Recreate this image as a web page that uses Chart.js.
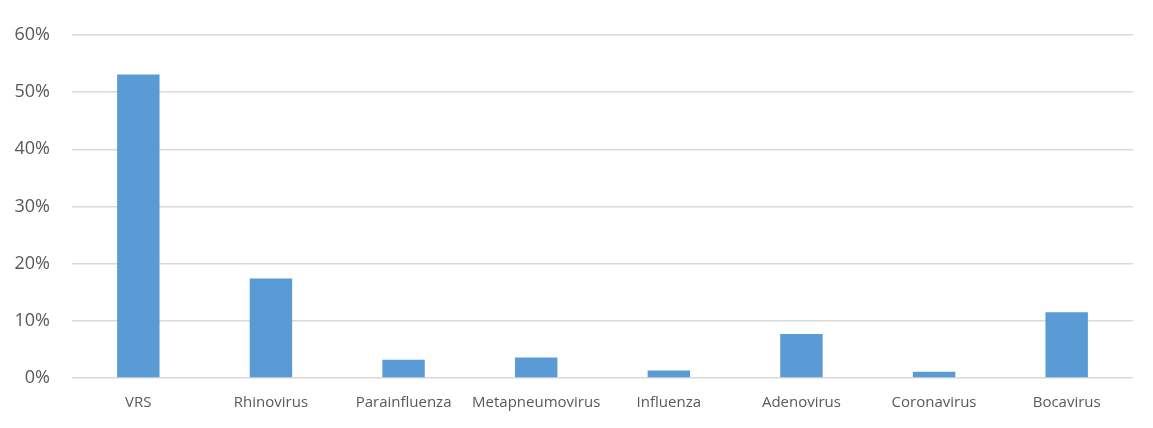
<!DOCTYPE html>
<html>
<head>
<meta charset="utf-8">
<script src="https://cdn.jsdelivr.net/npm/chart.js@4/dist/chart.umd.min.js"></script>
<style>
html,body{margin:0;padding:0;background:#fff;}
#wrap{width:1153px;height:428px;position:relative;}
</style>
</head>
<body>
<div id="wrap"><canvas id="c" width="1153" height="428"></canvas></div>
<script>
const categories = ["VRS","Rhinovirus","Parainfluenza","Metapneumovirus","Influenza","Adenovirus","Coronavirus","Bocavirus"];
const values = [53.1, 17.4, 3.2, 3.6, 1.3, 7.7, 1.1, 11.5];
const yTicks = [0,10,20,30,40,50,60];

new Chart(document.getElementById('c'), {
  type: 'bar',
  data: {
    labels: categories,
    datasets: [{
      data: values,
      backgroundColor: '#5b9bd5',
      borderWidth: 0,
      barPercentage: 0.32,
      categoryPercentage: 1.0
    }]
  },
  options: {
    responsive: false,
    animation: false,
    layout: { padding: { top: 35, right: 20, bottom: 0, left: 0 } },
    plugins: { legend: { display: false }, tooltip: { enabled: false } },
    scales: {
      x: {
        grid: { display: false, drawTicks: false },
        border: { display: false },
        ticks: { color: '#595959', font: { family: 'Open Sans', size: 15 }, padding: 16, maxRotation: 0, autoSkip: false }
      },
      y: {
        min: 0, max: 60,
        afterFit: s => { s.width = 72; },
        afterBuildTicks: s => { s.ticks = yTicks.map(v => ({ value: v })); },
        grid: { color: '#d9d9d9', lineWidth: 1.5, drawTicks: false },
        border: { display: false },
        ticks: { color: '#595959', font: { family: 'Open Sans', size: 18 }, padding: 22, callback: v => v + '%' }
      }
    }
  }
});
</script>
</body>
</html>
